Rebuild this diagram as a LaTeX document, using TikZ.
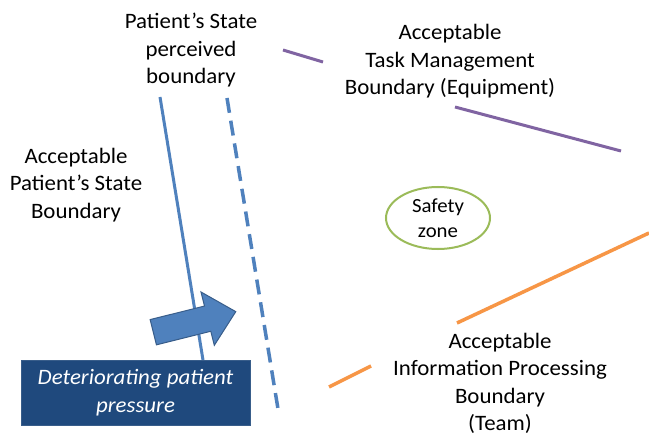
\documentclass[tikz,border=0pt]{standalone}
\usepackage{fontspec}
\setmainfont[FakeStretch=1.04]{Carlito}
\usetikzlibrary{shapes.geometric}
\definecolor{stateblue}{HTML}{4F81BD}
\definecolor{arrowedge}{HTML}{385D8A}
\definecolor{boxblue}{HTML}{1F497D}
\definecolor{taskpurple}{HTML}{8064A2}
\definecolor{teamorange}{HTML}{F79646}
\definecolor{safegreen}{HTML}{9BBB59}
\begin{document}
\begin{tikzpicture}[x=1pt,y=-1pt,
  lbl/.style={align=center, inner sep=0pt, font=\fontsize{22}{27.5}\selectfont, text=black},
  solidbound/.style={stateblue, line width=3pt},
  perceivedbound/.style={stateblue, line width=3.5pt, dash pattern=on 15pt off 8pt},
  taskbound/.style={taskpurple, line width=3pt},
  teambound/.style={teamorange, line width=3.5pt},
  zonebox/.style={ellipse, draw=safegreen, line width=2pt, minimum width=104pt, minimum height=62pt, inner sep=0pt, align=center, font=\fontsize{20}{25}\selectfont},
  pressurebox/.style={rectangle, fill=boxblue, draw=arrowedge, line width=0.8pt, minimum width=229pt, minimum height=65pt, inner sep=0pt, align=center, text=white, font=\fontsize{22}{27.5}\selectfont\itshape},
  pushshape/.style={fill=stateblue, draw=arrowedge, line width=1pt, line join=miter}
]
\useasboundingbox (0,0) rectangle (649,436);
\fill[white] (0,0) rectangle (649,436);

% boundary lines
\draw[solidbound] (160,97) -- (203,360);
\draw[perceivedbound] (227,98) -- (279,415);
\draw[taskbound] (283,50) -- (323,62);
\draw[taskbound] (455,107) -- (621,151);
\draw[teambound] (329,387) -- (371,366);
\draw[teambound] (457,323) -- (649,233);

% labels
\node[lbl] (perceived) at (191,50.5) {Patient’s State\\perceived\\boundary};
\node[lbl] (task) at (450,61.5) {Acceptable\\Task Management\\Boundary (Equipment)};
\node[lbl] (state) at (76,185) {Acceptable\\Patient’s State\\Boundary};
\node[lbl] (team) at (500,383.5) {Acceptable\\Information Processing\\Boundary\\(Team)};

% safety zone
\node[zonebox] (zone) at (438,218) {Safety\\zone};

% pressure arrow
\draw[pushshape, shift={(153.3,332.2)}, rotate=14]
  (0,-13) -- (56,-13) -- (56,-27.5) -- (85,0) -- (56,27.5) -- (56,13) -- (0,13) -- cycle;

% pressure box
\node[pressurebox] (pressure) at (135.5,392.5) {Deteriorating patient\\pressure};
\end{tikzpicture}
\end{document}
